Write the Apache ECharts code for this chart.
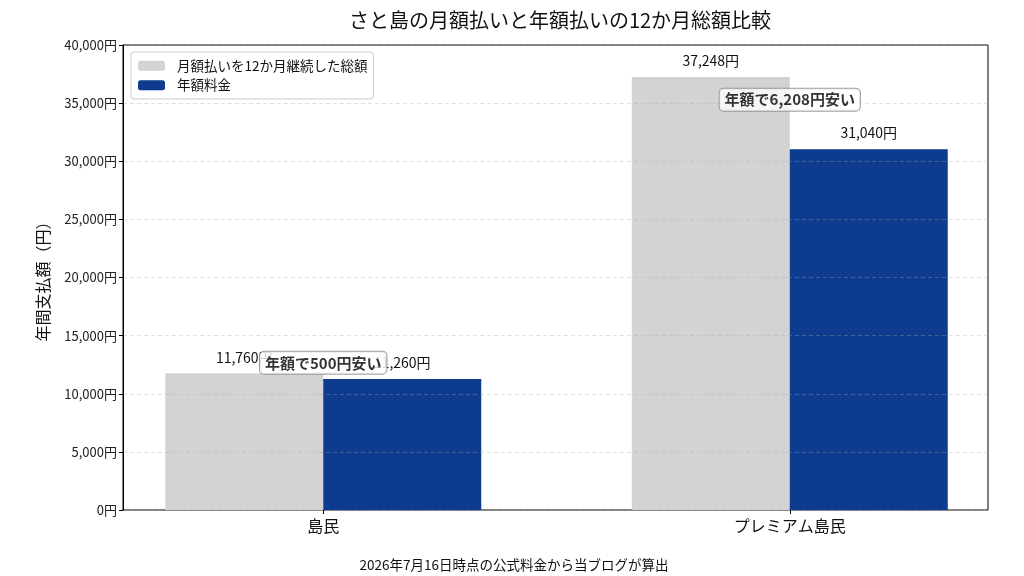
<!DOCTYPE html>
<html>
<head>
<meta charset="utf-8">
<script src="https://cdn.jsdelivr.net/npm/echarts@6/dist/echarts.min.js"></script>
<style>
  html, body { margin: 0; padding: 0; background: #fff; }
  #chart { width: 1024px; height: 576px; }
</style>
</head>
<body>
<div id="chart"></div>
<script>
  // data
  const categories = ['島民', 'プレミアム島民'];
  const seriesNames = ['月額払いを12か月継続した総額', '年額料金'];
  const monthlyTotal = [11760, 37248];
  const yearlyFee = [11260, 31040];

  const FONT = '"Noto Sans CJK JP", "Noto Sans", sans-serif';
  const yen = v => v.toLocaleString('en-US') + '円';

  // savings notes sit a little above the mean of the two bars
  const notes = categories.map((c, i) => ({
    value: [c, (monthlyTotal[i] + yearlyFee[i]) / 2 + 1150],
    text: '年額で' + yen(monthlyTotal[i] - yearlyFee[i]) + '安い'
  }));

  const chart = echarts.init(document.getElementById('chart'));

  const option = {
    backgroundColor: '#fff',
    textStyle: { fontFamily: FONT },
    animation: false,
    title: [
      {
        text: 'さと島の月額払いと年額払いの12か月総額比較',
        left: 555, top: 5, textAlign: 'center',
        textStyle: { fontFamily: FONT, fontSize: 20, fontWeight: 'normal', color: '#111' }
      },
      {
        text: '2026年7月16日時点の公式料金から当ブログが算出',
        left: 509, top: 553, textAlign: 'center',
        textStyle: { fontFamily: FONT, fontSize: 13.5, fontWeight: 'normal', color: '#111' }
      }
    ],
    legend: {
      data: seriesNames,
      orient: 'vertical',
      left: 131, top: 52,
      padding: [7, 6, 7, 7],
      itemWidth: 27, itemHeight: 10, itemGap: 6,
      borderColor: '#ccc', borderWidth: 1, borderRadius: 3,
      backgroundColor: 'rgba(255,255,255,0.9)',
      textStyle: { fontFamily: FONT, fontSize: 13.5, color: '#111', padding: [0, 0, 0, 7] }
    },
    grid: [
      // frame + y axis + gridlines
      { left: 123, right: 36, top: 45, bottom: 66, show: true, borderColor: '#000', borderWidth: 1 },
      // bars (wider so category centres fall where the reference has them)
      { left: 90, width: 933, top: 45, bottom: 66 }
    ],
    xAxis: [
      { gridIndex: 0, type: 'value', show: false, min: 0, max: 1 },
      {
        gridIndex: 1, type: 'category', data: categories,
        axisLine: { show: false },
        axisTick: { show: true, alignWithLabel: true, length: 4, lineStyle: { color: '#000' } },
        axisLabel: { fontFamily: FONT, fontSize: 16, color: '#111', margin: 8 }
      }
    ],
    yAxis: [
      {
        gridIndex: 0, type: 'value', min: 0, max: 40000, interval: 5000, z: 5,
        name: '年間支払額（円）', nameLocation: 'middle', nameGap: 72,
        nameTextStyle: { fontFamily: FONT, fontSize: 16, color: '#111' },
        axisLine: { show: true, lineStyle: { color: '#000' } },
        axisTick: { show: true, length: 4, lineStyle: { color: '#000' } },
        axisLabel: { fontFamily: FONT, fontSize: 13, color: '#222', margin: 6, formatter: v => yen(v) },
        splitLine: { show: true, lineStyle: { color: 'rgba(170,170,170,0.35)', type: [4, 3] } }
      },
      {
        gridIndex: 1, type: 'value', min: 0, max: 40000, show: false,
        splitLine: { show: false }
      }
    ],
    series: [
      {
        name: seriesNames[0], type: 'bar', xAxisIndex: 1, yAxisIndex: 1,
        data: monthlyTotal, barWidth: 158, barGap: '0%',
        itemStyle: { color: '#d3d3d3' },
        label: {
          show: true, position: 'top', distance: 9,
          fontFamily: FONT, fontSize: 14, color: '#111',
          formatter: p => yen(p.value)
        }
      },
      {
        name: seriesNames[1], type: 'bar', xAxisIndex: 1, yAxisIndex: 1,
        data: yearlyFee, barWidth: 158, barGap: '0%',
        itemStyle: { color: '#0d3b8e' },
        label: {
          show: true, position: 'top', distance: 9,
          fontFamily: FONT, fontSize: 14, color: '#111',
          formatter: p => yen(p.value)
        }
      },
      {
        name: 'notes', type: 'scatter', xAxisIndex: 1, yAxisIndex: 1,
        z: 10, symbolSize: 0,
        data: notes.map(n => ({ value: n.value, text: n.text })),
        label: {
          show: true, position: 'inside',
          fontFamily: FONT, fontSize: 15, fontWeight: 'bold', color: '#000',
          backgroundColor: '#fff', borderColor: '#888', borderWidth: 1, borderRadius: 4,
          padding: [4, 5, 3, 5],
          formatter: p => p.data.text
        }
      }
    ]
  };

  chart.setOption(option);
</script>
</body>
</html>
